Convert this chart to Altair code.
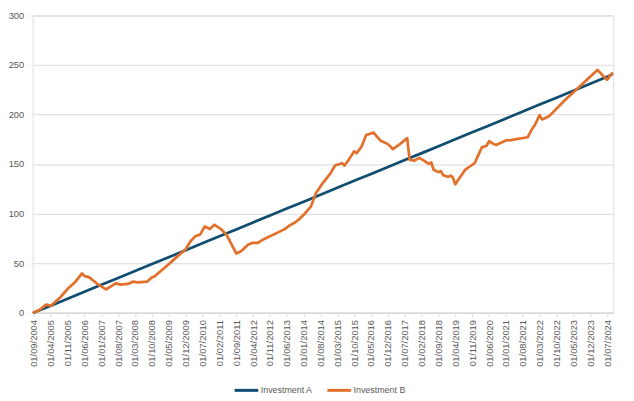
import altair as alt
import pandas as pd

# Investment A (read at each labelled month + last month)
a_dates = ["2004-09-01", "2005-04-01", "2005-11-01", "2006-06-01", "2007-01-01", "2007-08-01",
           "2008-03-01", "2008-10-01", "2009-05-01", "2009-12-01", "2010-07-01", "2011-02-01",
           "2011-09-01", "2012-04-01", "2012-11-01", "2013-06-01", "2014-01-01", "2014-08-01",
           "2015-03-01", "2015-10-01", "2016-05-01", "2016-12-01", "2017-07-01", "2018-02-01",
           "2018-09-01", "2019-04-01", "2019-11-01", "2020-06-01", "2021-01-01", "2021-08-01",
           "2022-03-01", "2022-10-01", "2023-05-01", "2023-12-01", "2024-07-01", "2024-09-01"]
a_values = [0, 7, 14, 21, 28, 35, 42, 49, 56, 63, 70, 77, 84, 91, 98, 105, 112, 119,
            126, 133, 140, 147, 154, 161, 168, 175, 182, 189, 196, 203, 210, 217, 224, 231,
            238, 240.5]

# Investment B
b_dates = ["2004-09-01", "2004-11-01", "2004-12-01", "2005-02-01", "2005-04-01", "2005-05-01",
           "2005-08-01", "2005-11-01", "2006-02-01", "2006-05-01", "2006-06-01", "2006-08-01",
           "2006-11-01", "2007-03-01", "2007-07-01", "2007-09-01", "2007-12-01", "2008-02-01",
           "2008-04-01", "2008-08-01", "2008-10-01", "2008-11-01", "2009-02-01", "2009-05-01",
           "2009-08-01", "2009-12-01", "2010-02-01", "2010-04-01", "2010-06-01", "2010-08-01",
           "2010-10-01", "2010-12-01", "2011-03-01", "2011-05-01", "2011-09-01", "2011-11-01",
           "2012-02-01", "2012-04-01", "2012-06-01", "2012-08-01", "2013-05-01", "2013-07-01",
           "2013-09-01", "2013-11-01", "2014-01-01", "2014-04-01", "2014-06-01", "2014-09-01",
           "2014-12-01", "2015-02-01", "2015-05-01", "2015-06-01", "2015-08-01", "2015-10-01",
           "2015-11-01", "2016-01-01", "2016-03-01", "2016-04-01", "2016-06-01", "2016-09-01",
           "2016-12-01", "2017-02-01", "2017-05-01", "2017-08-01", "2017-09-01", "2017-11-01",
           "2018-01-01", "2018-03-01", "2018-05-01", "2018-06-01", "2018-07-01", "2018-09-01",
           "2018-10-01", "2018-11-01", "2019-01-01", "2019-02-01", "2019-03-01", "2019-04-01",
           "2019-06-01", "2019-07-01", "2019-08-01", "2019-10-01", "2019-12-01", "2020-03-01",
           "2020-05-01", "2020-06-01", "2020-08-01", "2020-09-01", "2021-01-01", "2021-03-01",
           "2021-10-01", "2021-11-01", "2021-12-01", "2022-01-01", "2022-03-01", "2022-04-01",
           "2022-05-01", "2022-07-01", "2023-01-01", "2024-03-01", "2024-05-01", "2024-07-01",
           "2024-09-01"]
b_values = [0, 2.3, 4, 8, 7, 9,
            15.5, 24, 30.6, 39.6, 37, 35.6,
            29.6, 23.5, 29.5, 28.2, 28.9, 31.2,
            30.6, 31.2, 35.6, 36.4, 42.7, 48.8,
            55.5, 64, 72, 77, 78.7, 87,
            84.4, 88.7, 83.7, 78.7, 59.7, 62,
            68.8, 70.5, 70.5, 73.5, 84, 87.7,
            90.4, 94, 98.7, 107, 120, 131,
            140, 148.5, 150.8, 148.5, 155.2, 162.8,
            161, 167.5, 179.4, 180.1, 181.7, 173.4,
            170.1, 165.1, 170.1, 176.1, 154.2, 153.5,
            156.2, 153.5, 150.2, 151.5, 144.2, 141.8,
            142.9, 138.6, 137, 138.3, 136.3, 129.6,
            136.9, 140.2, 144, 147.5, 150.8, 166.8,
            168.5, 173, 170, 169.4, 173.8, 174.1,
            177, 181.7, 186, 189.4, 199.4, 195,
            196, 198.4, 213.3, 245, 240, 235,
            241.5]

series_names = ["Investment A", "Investment B"]
series_colors = ["#0F4D71", "#E3702A"]

# x-axis tick label dates (every 7 months)
tick_dates = a_dates[:-1]
y_ticks = [0, 50, 100, 150, 200, 250, 300]

df = pd.concat([
    pd.DataFrame({"date": a_dates, "value": a_values, "series": series_names[0]}),
    pd.DataFrame({"date": b_dates, "value": b_values, "series": series_names[1]}),
])


def dt(s, day=None):
    y, m, d = s.split("-")
    return alt.DateTime(year=int(y), month=int(m), date=int(day or d), utc=True)


tick_values = [dt(s) for s in tick_dates]

chart = alt.Chart(df).mark_line(strokeWidth=2.75, strokeJoin="round", strokeCap="round").encode(
    x=alt.X("date:T",
            scale=alt.Scale(type="utc", domain=[dt("2004-08-16"), dt("2024-09-16")]),
            axis=alt.Axis(values=tick_values, format="%d/%m/%Y", labelAngle=-90, title=None,
                          grid=False, domainColor="#D9D9D9", tickColor="#D9D9D9", tickSize=4,
                          labelPadding=3, labelOverlap=False, labelFontSize=9.5,
                          labelColor="#595959", labelFlush=False, labelBound=False)),
    y=alt.Y("value:Q",
            scale=alt.Scale(domain=[0, 300], nice=False),
            axis=alt.Axis(values=y_ticks, title=None, domain=False, ticks=False,
                          gridColor="#D9D9D9", labelColor="#595959", labelFontSize=9.5,
                          labelPadding=9)),
    color=alt.Color("series:N",
                    scale=alt.Scale(domain=series_names, range=series_colors),
                    legend=alt.Legend(title=None, orient="none", legendX=203, legendY=366,
                                      direction="horizontal", symbolType="stroke",
                                      symbolSize=576, symbolStrokeWidth=3,
                                      labelFontSize=9, labelColor="#595959",
                                      labelOffset=1, columnPadding=8, padding=0)),
).properties(
    width=588, height=301,
    padding={"left": 25, "top": 5, "right": 13, "bottom": 87},
    autosize="none",
).configure_view(stroke=None).configure(font="Liberation Sans", background="white")

chart.save("out.html", embed_options={"renderer": "svg", "actions": False})
